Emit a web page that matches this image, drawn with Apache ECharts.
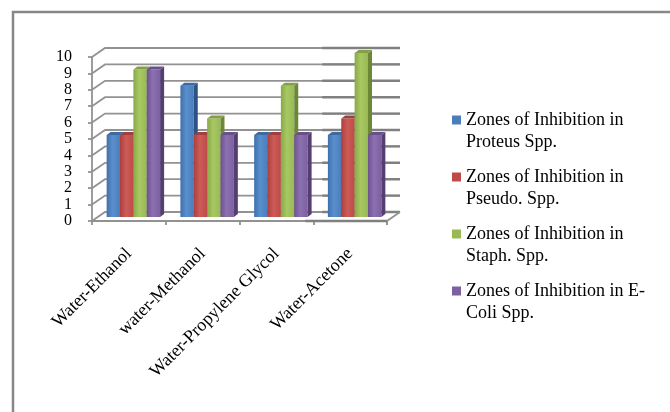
<!DOCTYPE html>
<html>
<head>
<meta charset="utf-8">
<script src="https://cdn.jsdelivr.net/npm/echarts@6/dist/echarts.min.js"></script>
<style>
  html, body { margin: 0; padding: 0; background: #ffffff; }
  #chart { width: 670px; height: 412px; }
</style>
</head>
<body>
<div id="chart"></div>
<script>
// Solvent systems on the category axis
const categories = ['Water-Ethanol', 'water-Methanol', 'Water-Propylene Glycol', 'Water-Acetone'];

// Legend names (line break where the legend wraps)
const seriesNames = [
  'Zones of Inhibition in\nProteus Spp.',
  'Zones of Inhibition in\nPseudo. Spp.',
  'Zones of Inhibition in\nStaph. Spp.',
  'Zones of Inhibition in E-\nColi Spp.'
];

// Zone of inhibition per organism, one value per solvent system
const proteus = [5, 8, 5, 5];
const pseudo  = [5, 5, 5, 6];
const staph   = [9, 6, 8, 10];
const ecoli   = [9, 5, 5, 5];

// Value axis ticks
const yTicks = [0, 1, 2, 3, 4, 5, 6, 7, 8, 9, 10];

const FONT = "'Liberation Serif', 'Times New Roman', serif";
const FONT_SIZE = 18;

// Perspective offsets: back wall depth, bar placement inside the box, bar depth
const WALL_DX = 13, WALL_DY = -9;
const BAR_OX = 4.5, BAR_OY = -4;
const BAR_DX = 4, BAR_DY = -3;
const GROUP_RATIO = 0.725;
const GRID_COLOR = '#929292';

// front / side / top shades per series
const palette = [
  { base: '#4a7ebb', dark: '#3f70ac', light: '#5a8fcd', side: '#2d5384', top: '#3e6aa2' },
  { base: '#be4b48', dark: '#ab3f3c', light: '#cd5b58', side: '#88302e', top: '#a03f3c' },
  { base: '#98b954', dark: '#88a948', light: '#a8c864', side: '#6c8836', top: '#82a046' },
  { base: '#7d60a0', dark: '#6e528f', light: '#8d70b0', side: '#553f72', top: '#68518a' }
];
const values = [proteus, pseudo, staph, ecoli];

function barRenderer(k) {
  const c = palette[k];
  return function (params, api) {
    const cat = api.value(0);
    const v = api.value(1);
    const band = api.size([1, 0])[0];
    const groupW = band * GROUP_RATIO;
    const w = groupW / 4;
    const p0 = api.coord([cat, 0]);
    const p1 = api.coord([cat, v]);
    const x = p0[0] - groupW / 2 + k * w + BAR_OX;
    const base = p0[1] + BAR_OY;
    const y = p1[1] + BAR_OY;
    return {
      type: 'group',
      children: [
        {
          type: 'rect',
          shape: { x: x, y: y, width: w, height: base - y },
          style: {
            fill: {
              type: 'linear', x: 0, y: 0, x2: 1, y2: 0,
              colorStops: [
                { offset: 0, color: c.dark },
                { offset: 0.45, color: c.light },
                { offset: 1, color: c.base }
              ]
            }
          }
        },
        {
          type: 'polygon',
          shape: { points: [[x + w, y], [x + w + BAR_DX, y + BAR_DY], [x + w + BAR_DX, base + BAR_DY], [x + w, base]] },
          style: { fill: c.side }
        },
        {
          type: 'polygon',
          shape: { points: [[x, y], [x + w, y], [x + w + BAR_DX, y + BAR_DY], [x + BAR_DX, y + BAR_DY]] },
          style: { fill: c.top }
        }
      ]
    };
  };
}

// Side wall diagonals and back wall gridlines, one per tick
function wallRenderer(params, api) {
  const v = api.value(0);
  const cs = params.coordSys;
  const p = api.coord([0, v]);
  const yf = p[1];
  const x0 = cs.x, x1 = cs.x + cs.width;
  const band = cs.width / categories.length;
  const children = [
    {
      type: 'polyline',
      shape: { points: [[x0, yf], [x0 + WALL_DX, yf + WALL_DY], [x1 + WALL_DX, yf + WALL_DY]] },
      style: { stroke: GRID_COLOR, lineWidth: 1.8, fill: null }
    },
    {
      type: 'line',
      shape: { x1: x0 + 3 * band + 9, y1: yf + WALL_DY, x2: x1 + WALL_DX, y2: yf + WALL_DY },
      style: { stroke: '#808080', lineWidth: 2.4 }
    }
  ];
  if (v === 0) {
    children.push({
      type: 'polyline',
      shape: { points: [[x1, yf + 4], [x1, yf], [x1 + WALL_DX, yf + WALL_DY]] },
      style: { stroke: GRID_COLOR, lineWidth: 1.8, fill: null }
    });
    children.push({
      type: 'line',
      shape: { x1: x0 + 3 * band - 8, y1: yf, x2: x1, y2: yf },
      style: { stroke: '#808080', lineWidth: 2.4 }
    });
  }
  return { type: 'group', children: children };
}

const series = [
  {
    type: 'custom',
    name: 'walls',
    renderItem: wallRenderer,
    data: yTicks.map(function (t) { return [t]; }),
    encode: { y: 0 },
    clip: false,
    silent: true,
    z: 1
  }
];
values.forEach(function (arr, k) {
  series.push({
    type: 'custom',
    name: seriesNames[k],
    renderItem: barRenderer(k),
    data: arr.map(function (v, i) { return [i, v]; }),
    encode: { x: 0, y: 1 },
    itemStyle: { color: palette[k].base },
    clip: false,
    z: 5
  });
});

const chart = echarts.init(document.getElementById('chart'), null, { renderer: 'canvas' });
chart.setOption({
  animation: false,
  backgroundColor: '#ffffff',
  graphic: [
    {
      type: 'rect',
      shape: { x: 13, y: 12, width: 720, height: 460 },
      style: { fill: null, stroke: '#878787', lineWidth: 2.5 },
      silent: true
    }
  ],
  grid: {
    left: 92, right: 283, top: 57, bottom: 191,
    containLabel: false,
    outerBoundsMode: 'none'
  },
  xAxis: {
    type: 'category',
    data: categories,
    axisLine: { lineStyle: { color: GRID_COLOR, width: 1.8 } },
    axisTick: { show: true, length: 4, lineStyle: { color: GRID_COLOR, width: 1.8 } },
    axisLabel: {
      rotate: 45,
      margin: 30,
      interval: 0,
      color: '#000000',
      fontFamily: FONT,
      fontSize: FONT_SIZE
    },
    splitLine: { show: false }
  },
  yAxis: {
    type: 'value',
    min: 0,
    max: 10,
    interval: 1,
    axisLine: { show: true, lineStyle: { color: GRID_COLOR, width: 1.8 } },
    axisTick: { show: true, length: 4, lineStyle: { color: GRID_COLOR, width: 1.8 } },
    axisLabel: {
      margin: 20,
      color: '#000000',
      fontFamily: FONT,
      fontSize: 16,
      lineHeight: 14
    },
    splitLine: { show: false }
  },
  legend: {
    orient: 'vertical',
    left: 452,
    top: 87,
    padding: 0,
    itemGap: -9,
    itemWidth: 9,
    itemHeight: 9,
    icon: 'rect',
    data: seriesNames,
    selectedMode: false,
    // a leading empty line keeps the swatch level with the first text line
    formatter: function (name) { return '\n' + name; },
    textStyle: {
      color: '#000000',
      fontFamily: FONT,
      fontSize: FONT_SIZE,
      lineHeight: 22
    }
  },
  series: series
});
</script>
</body>
</html>
